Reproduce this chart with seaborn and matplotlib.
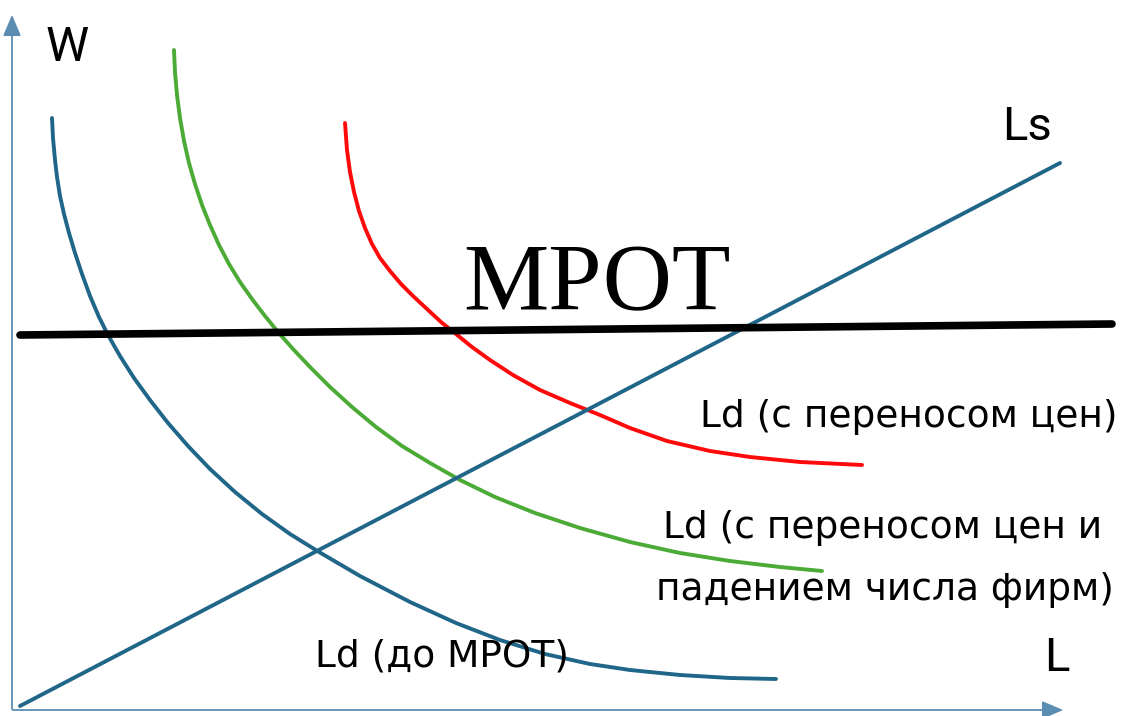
import matplotlib
matplotlib.use("Agg")
import matplotlib.pyplot as plt
import seaborn as sns
import pandas as pd

# labour demand / supply curves (L = labour, W = wage)
ld_base_L = [40, 41, 43, 45, 48, 52, 57, 63, 70, 78, 87, 96, 108, 122, 138, 156,
             176, 198, 223, 250, 278, 307, 348, 398, 444, 488, 533, 578, 618, 668,
             718, 764]
ld_base_W = [592, 572, 550, 533, 514, 496, 477, 457, 436, 414, 393, 375, 354, 332,
             310, 287, 264, 241, 218, 196, 176, 158, 134, 108, 87, 70, 56, 46, 40,
             35, 32, 31]

ld_firms_L = [162, 163, 165, 168, 172, 177, 183, 190, 198, 207, 217, 228, 240, 253,
              266, 281, 298, 318, 340, 364, 390, 418, 448, 483, 523, 568, 618, 668,
              718, 768, 810]
ld_firms_W = [660, 638, 615, 592, 569, 547, 526, 505, 485, 465, 446, 428, 411, 394,
              378, 361, 343, 323, 303, 283, 264, 247, 230, 213, 197, 182, 168, 157,
              149, 143, 139]

ld_price_L = [333, 335, 338, 342, 347, 353, 360, 368, 378, 389, 401, 415, 429, 444,
              460, 478, 501, 528, 558, 588, 618, 655, 698, 738, 788, 850]
ld_price_W = [587, 560, 538, 518, 499, 482, 466, 452, 439, 426, 414, 401, 388, 376,
              363, 350, 335, 320, 307, 295, 282, 269, 259, 253, 248, 245]

ls_L = [8, 1048]
ls_W = [4, 547]

mrot_L = [8, 1100]
mrot_W = [375, 386]

df = pd.concat([
    pd.DataFrame({"L": ld_base_L, "W": ld_base_W, "curve": "base"}),
    pd.DataFrame({"L": ld_firms_L, "W": ld_firms_W, "curve": "firms"}),
    pd.DataFrame({"L": ld_price_L, "W": ld_price_W, "curve": "price"}),
    pd.DataFrame({"L": ls_L, "W": ls_W, "curve": "ls"}),
])
colors = {"base": "#1f6689", "firms": "#4cab36", "price": "#ff0a0a", "ls": "#1f6689"}

sns.set_style("white")
plt.rcParams["font.family"] = ["DejaVu Sans"]
plt.rcParams["text.color"] = "black"

fig = plt.figure(figsize=(11.23, 7.16), dpi=100)
ax = fig.add_axes([0, 0, 1, 1])

sns.lineplot(data=df, x="L", y="W", hue="curve", palette=colors, sort=False,
             estimator=None, units="curve", linewidth=2.8, legend=False, ax=ax,
             solid_joinstyle="round")
sns.lineplot(x=mrot_L, y=mrot_W, color="black", linewidth=5.5, sort=False,
             estimator=None, ax=ax)

# axes with arrow heads
axis_col = "#5b8db3"
arrow = dict(arrowstyle="-|>,head_width=0.55,head_length=1.3",
             color=axis_col, lw=1.3, mutation_scale=10)
ax.annotate("", xy=(0, 698), xytext=(0, -2), arrowprops=arrow)
ax.annotate("", xy=(1054, 0), xytext=(-2, 0), arrowprops=arrow)

ax.text(55, 662, "W", fontsize=35, family="Roboto", ha="center", va="center")
ax.text(1015, 583, "Ls", fontsize=34, family="Roboto", ha="center", va="center")
ax.text(1045, 52, "L", fontsize=34, family="Roboto", ha="center", va="center")
ax.text(585, 400, "МРОТ", fontsize=69, family="Liberation Serif",
        ha="center", va="baseline")

lab = 27
ax.text(688, 283, "Ld (с переносом цен)", fontsize=lab, va="baseline")
ax.text(651, 172, "Ld (с переносом цен и", fontsize=lab, va="baseline")
ax.text(644, 110, "падением числа фирм)", fontsize=lab, va="baseline")
ax.text(303, 43, "Ld (до МРОТ)", fontsize=lab, va="baseline")

ax.set_xlim(-12, 1111)
ax.set_ylim(-6, 710)
ax.set_axis_off()

fig.savefig("out.png", dpi=100)
